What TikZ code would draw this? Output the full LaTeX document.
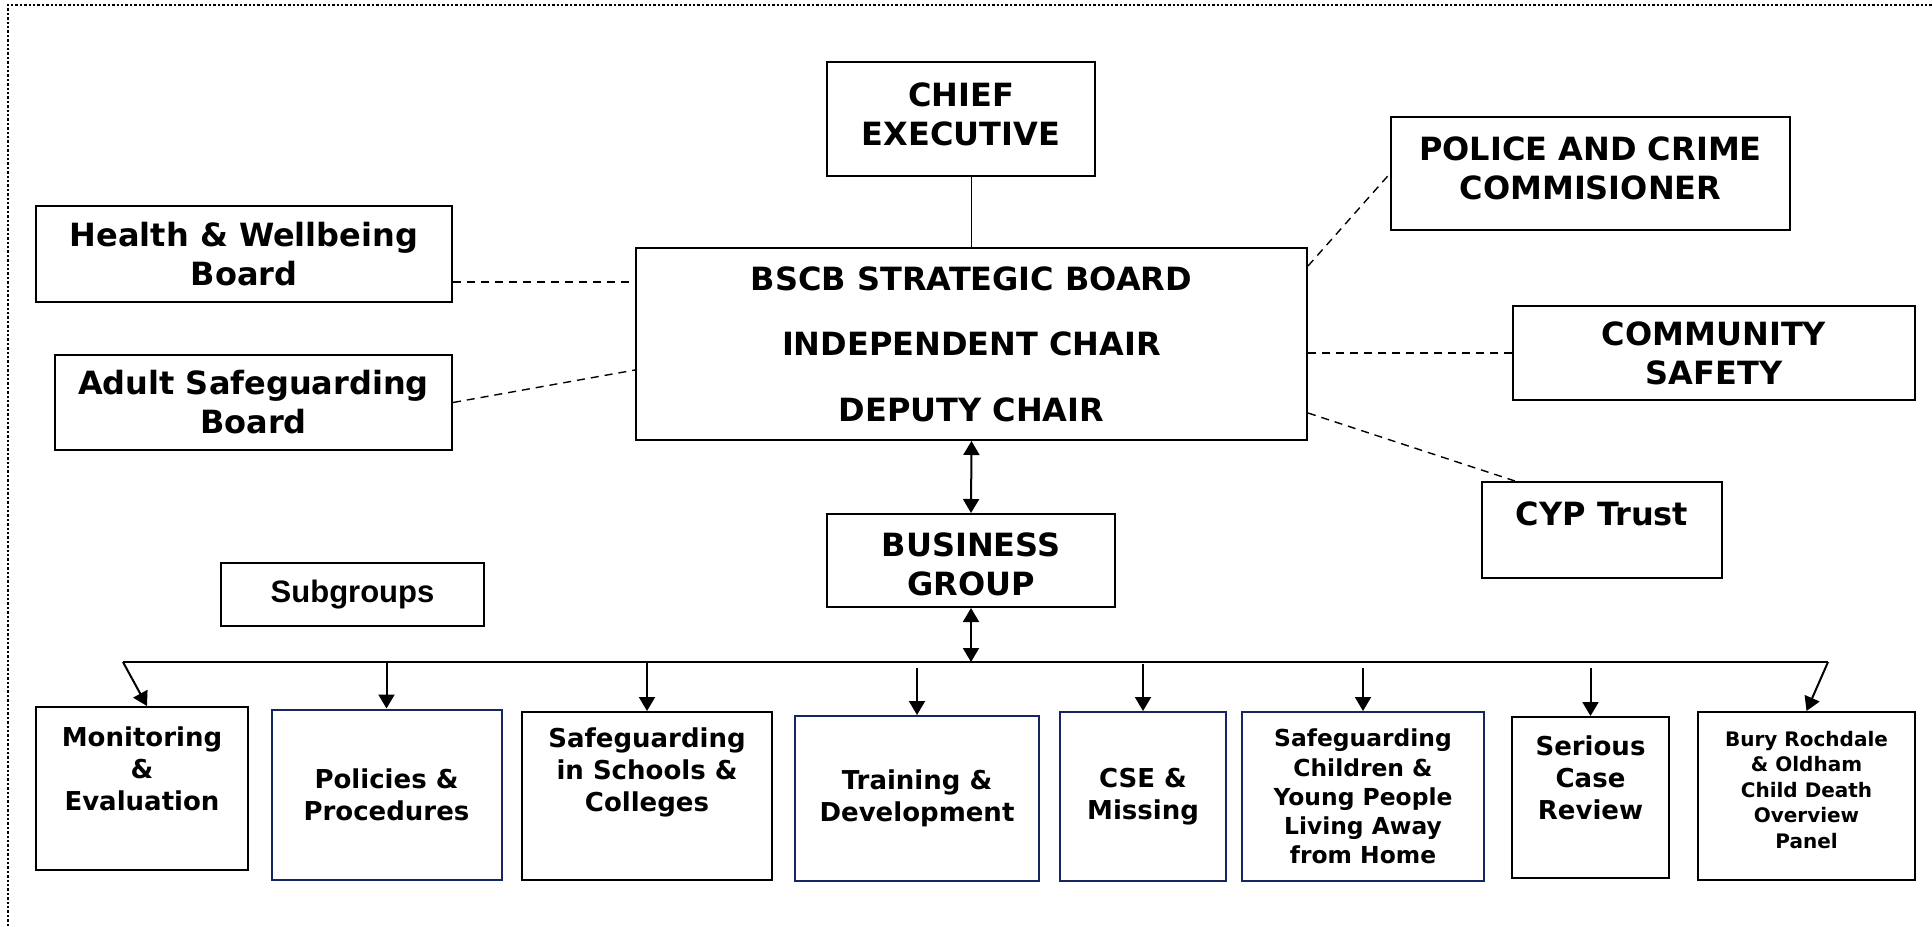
\documentclass[tikz,border=0pt]{standalone}
\usepackage{fontspec}
\setmainfont{DejaVu Sans}
\newfontfamily\arialbold{Liberation Sans}
\usetikzlibrary{arrows.meta,calc}
\definecolor{navy}{RGB}{22,38,98}

\begin{document}
\begin{tikzpicture}[x=0.5pt,y=-0.5pt,
		box/.style={draw, line width=1pt, align=center, inner sep=0pt,
			font=\bfseries\fontsize{16}{19.5}\selectfont},
		sub/.style={box, font=\bfseries\fontsize{13}{16}\selectfont},
		subtext/.style={align=center, inner sep=0pt, font=\bfseries\fontsize{13}{16}\selectfont},
		link/.style={dash pattern=on 4pt off 3pt, line width=0.7pt},
		arr/.style={line width=1pt, -{Triangle[length=7pt,width=8pt]}},
		both/.style={line width=1pt, {Triangle[length=7pt,width=8pt]}-{Triangle[length=7pt,width=8pt]}}]
					\useasboundingbox (0,0) rectangle (1932,926);
					% dotted frame, top and left edge only
					\draw[line width=1.2pt, dash pattern=on 1.2pt off 1pt] (8,926) -- (8,5) -- (1932,5);
					
					% board and partners
					\node[box, minimum width=134pt, minimum height=57pt, label={[box, draw=none, yshift=2.5pt]center:CHIEF\\EXECUTIVE}] (chief) at (961,119) {};
					\node[box, minimum width=199.5pt, minimum height=56.5pt, label={[box, draw=none, yshift=2.5pt]center:POLICE AND CRIME\\COMMISIONER}] (police) at (1590.5,173.5) {};
					\node[box, minimum width=208pt, minimum height=48pt] (health) at (244,254) {Health \& Wellbeing\\Board};
					\node[box, minimum width=335.5pt, minimum height=96pt] (bscb) at (971.5,344) {BSCB STRATEGIC BOARD\\[13.25pt]INDEPENDENT CHAIR\\[13.25pt]DEPUTY CHAIR};
					\node[box, minimum width=198.5pt, minimum height=47.5pt] (adult) at (253.5,402.5) {Adult Safeguarding\\Board};
					\node[box, minimum width=201pt, minimum height=47pt] (community) at (1714,353) {COMMUNITY\\SAFETY};
					\node[box, minimum width=120pt, minimum height=48pt, label={[box, draw=none, yshift=8pt]center:CYP Trust}] (cyp) at (1602,530) {};
					\node[box, minimum width=144pt, minimum height=46.5pt, label={[box, draw=none, yshift=-2pt]center:BUSINESS\\GROUP}] (business) at (971,560.5) {};
					\node[box, font=\arialbold\bfseries\fontsize{15.5}{19}\selectfont, minimum width=131.5pt, minimum height=31.5pt] (subgroups) at (352.5,594.5) {Subgroups};
					
					% subgroups
					\node[sub, minimum width=106pt, minimum height=81.5pt, label={[subtext, yshift=9.75pt]center:Monitoring\\\&\\Evaluation}] (mon) at (142,788.5) {};
					\node[sub, draw=navy, minimum width=115pt, minimum height=85pt] (pol) at (386.5,794.5) {Policies \&\\Procedures};
					\node[sub, minimum width=125pt, minimum height=84pt, label={[subtext, yshift=12pt]center:Safeguarding\\in Schools \&\\Colleges}] (sch) at (647,796) {};
					\node[sub, draw=navy, minimum width=122pt, minimum height=82.5pt] (trn) at (917,798.5) {Training \&\\Development};
					\node[sub, draw=navy, minimum width=83pt, minimum height=84.5pt] (cse) at (1143,796.5) {CSE \&\\Missing};
					\node[sub, draw=navy, minimum width=121pt, minimum height=84.5pt, font=\bfseries\fontsize{11.7}{14.6}\selectfont] (lah) at (1363,796.5) {Safeguarding\\Children \&\\Young People\\Living Away\\from Home};
					\node[sub, minimum width=78.5pt, minimum height=80.5pt, label={[subtext, yshift=9.75pt]center:Serious\\Case\\Review}] (scr) at (1590.5,797.5) {};
					\node[sub, minimum width=108.5pt, minimum height=84pt, label={[subtext, font=\bfseries\fontsize{10}{12.75}\selectfont, yshift=3pt]center:Bury Rochdale\\\& Oldham\\Child Death\\Overview\\Panel}] (cdop) at (1806.5,796) {};
					
					% reporting lines
					\draw[line width=0.8pt] (bscb.north) -- (bscb.north |- chief.south);
					\draw[both] (bscb.south) -- (business.north);
					\coordinate (busL) at (123,662);
					\coordinate (busR) at (1828,662);
					\draw[line width=1pt] (busL) -- (busR);
					\draw[both] (business.south) -- (business.south |- busL);
					\draw[arr] (busL) -- ([xshift=2.5pt]mon.north);
					\draw[arr] (busR) -- (cdop.north);
					\foreach \n/\g in {pol/0,sch/0,trn/6,cse/2,lah/6,scr/6}
						\draw[arr] ($(\n.north |- busL)+(0,\g)$) -- (\n.north);
					
					% partnership links
					\draw[link] ([yshift=-14pt]health.east) coordinate (h) -- (h -| bscb.west);
					\draw[link] (adult.east) -- ([yshift=-13pt]bscb.west);
					\draw[link] ([yshift=39pt]bscb.east) -- (police.west);
					\draw[link] (community.west -| bscb.east) -- (community.west);
					\draw[link] ([yshift=-34.5pt]bscb.east) -- ([xshift=-43.5pt]cyp.north);
					
				\end{tikzpicture}
\end{document}
